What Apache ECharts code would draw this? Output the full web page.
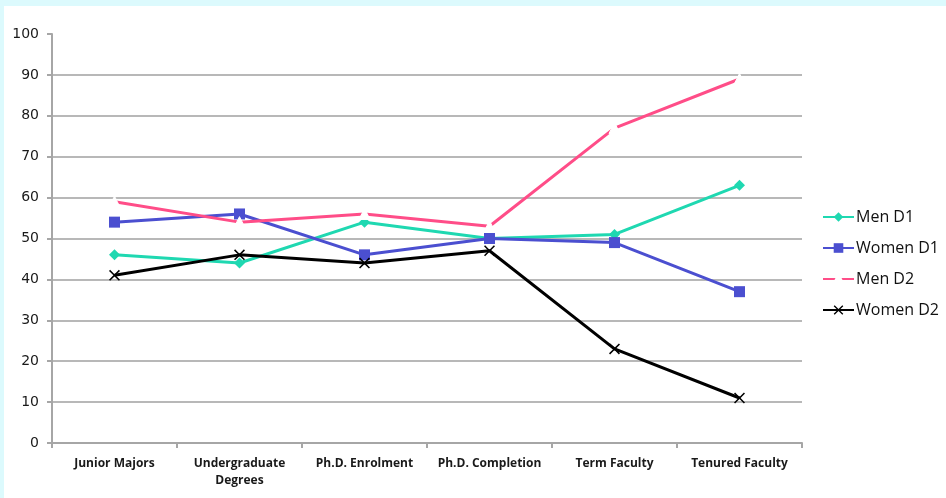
<!DOCTYPE html>
<html>
<head>
<meta charset="utf-8">
<script src="https://cdn.jsdelivr.net/npm/echarts@6/dist/echarts.min.js"></script>
<style>
  html, body { margin: 0; padding: 0; background: #dcfafd; width: 946px; height: 498px; overflow: hidden; }
  #chart { position: absolute; left: 4px; top: 6px; width: 942px; height: 492px; background: #ffffff; }
</style>
</head>
<body>
<div id="chart"></div>
<script>
const categories = ['Junior Majors', 'Undergraduate\nDegrees', 'Ph.D. Enrolment', 'Ph.D. Completion', 'Term Faculty', 'Tenured Faculty'];
const menD1 = [46, 44, 54, 50, 51, 63];
const womenD1 = [54, 56, 46, 50, 49, 37];
const menD2 = [59, 54, 56, 53, 77, 89];
const womenD2 = [41, 46, 44, 47, 23, 11];

const crossPath = 'path://M0,1L1,0L5,4L9,0L10,1L6,5L10,9L9,10L5,6L1,10L0,9L4,5Z';

function lineSeries(name, data, color, symbol, size, extra) {
  return Object.assign({
    name: name,
    type: 'line',
    data: data,
    symbol: symbol,
    symbolSize: size,
    lineStyle: { color: color, width: 3 },
    itemStyle: { color: color },
    emphasis: { disabled: true },
    z: 3,
  }, extra || {});
}

const chart = echarts.init(document.getElementById('chart'));
chart.setOption({
  animation: false,
  grid: { left: 48, right: 144, top: 28, bottom: 55 },
  legend: {
    orient: 'vertical',
    left: 818,
    top: 203,
    padding: 0,
    itemGap: 15,
    itemWidth: 31,
    itemHeight: 12,
    textStyle: { fontFamily: 'Open Sans', fontSize: 16, color: '#111', padding: [0, 0, 0, -3] },
    data: ['Men D1', 'Women D1', 'Men D2', 'Women D2'],
  },
  xAxis: {
    type: 'category',
    data: categories,
    axisLine: { lineStyle: { color: '#a6a6a6', width: 2 } },
    axisTick: { show: true, lineStyle: { color: '#a6a6a6', width: 2 }, length: 5 },
    axisLabel: {
      interval: 0,
      fontFamily: 'Open Sans',
      fontWeight: 'bold',
      fontSize: 12,
      color: '#1a1a1a',
      margin: 12,
      lineHeight: 17,
    },
  },
  yAxis: {
    type: 'value',
    min: 0,
    max: 100,
    interval: 10,
    axisLine: { show: true, lineStyle: { color: '#a6a6a6', width: 2 } },
    axisTick: { show: true, lineStyle: { color: '#a6a6a6', width: 2 }, length: 5 },
    axisLabel: { fontFamily: 'DejaVu Sans', fontSize: 14, color: '#1a1a1a', margin: 13 },
    splitLine: {
      show: true,
      lineStyle: {
        color: ['#a0a0a0', '#a0a0a0', '#a0a0a0', '#a0a0a0', '#a0a0a0', '#a0a0a0',
                '#a0a0a0', '#a0a0a0', '#a0a0a0', '#a0a0a0', 'rgba(0,0,0,0)'],
        width: 1.5,
      },
    },
  },
  series: [
    lineSeries('Men D1', menD1, '#1fd8b1', 'diamond', 11),
    lineSeries('Women D1', womenD1, '#4b4fd0', 'rect', 11),
    lineSeries('Men D2', menD2, '#ff4d88', 'triangle', 11, {
      itemStyle: { color: '#ffffff', borderColor: '#ffffff', borderWidth: 1 },
    }),
    lineSeries('Women D2', womenD2, '#000000', crossPath, 11),
  ],
});
window.addEventListener('resize', () => {
  chart.resize();
});
</script>
</body>
</html>
